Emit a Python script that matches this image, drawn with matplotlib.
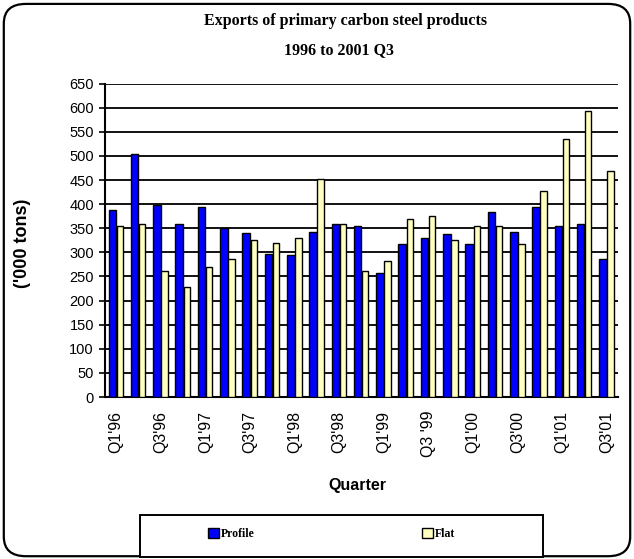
"""Exports of primary carbon steel products, 1996 to 2001 Q3."""

import matplotlib

matplotlib.use("Agg")
import matplotlib.pyplot as plt
import numpy as np
from matplotlib.patches import FancyBboxPatch, Patch, Rectangle

quarters = [
    "Q1'96", "Q2'96", "Q3'96", "Q4'96",
    "Q1'97", "Q2'97", "Q3'97", "Q4'97",
    "Q1'98", "Q2'98", "Q3'98", "Q4'98",
    "Q1'99", "Q2'99", "Q3 '99", "Q4'99",
    "Q1'00", "Q2'00", "Q3'00", "Q4'00",
    "Q1'01", "Q2'01", "Q3'01",
]
profile = [388, 505, 398, 358, 395, 350, 340, 297, 295, 342, 358, 355,
           258, 317, 330, 338, 317, 383, 342, 395, 355, 358, 287]
flat = [355, 358, 262, 228, 270, 287, 325, 320, 330, 453, 358, 262,
        283, 370, 375, 325, 355, 355, 317, 428, 535, 593, 468]
y_ticks = list(range(0, 651, 50))

SANS = "Liberation Sans"
SERIF = "Liberation Serif"

fig = plt.figure(figsize=(6.34, 5.59), dpi=100)
fig.patches.append(
    FancyBboxPatch((0.006, 0.005), 0.988, 0.988, boxstyle="round,pad=0,rounding_size=0.035",
                   transform=fig.transFigure, fc="white", ec="black", lw=1.6, zorder=-1)
)

ax = fig.add_axes([0.1656, 0.2898, 0.809, 0.5605])
x = np.arange(len(quarters))
w = 0.34
ax.bar(x - w / 2, profile, w, color="#0000FF", edgecolor="black", linewidth=1.0, zorder=3)
ax.bar(x + w / 2, flat, w * 0.85, color="#FFFFC0", edgecolor="black", linewidth=1.0, zorder=3)

ax.set_xlim(-0.5, len(quarters) - 0.5)
ax.set_ylim(0, 650)
ax.set_yticks(y_ticks)
ax.set_yticklabels([str(v) for v in y_ticks], fontsize=10.5, family=SANS)
ax.yaxis.grid(True, color="black", lw=1.3, zorder=0)
ax.set_xticks(x[::2])
ax.set_xticklabels(quarters[::2], rotation=90, fontsize=11.5, family=SANS)
ax.tick_params(axis="x", length=0, pad=10)
ax.tick_params(axis="y", length=4, width=1.2, pad=4)
for side in ("top", "right"):
    ax.spines[side].set_visible(False)
for side in ("left", "bottom"):
    ax.spines[side].set_linewidth(1.5)

fig.text(0.545, 0.962, "Exports of primary carbon steel products", ha="center", va="center",
         family=SERIF, weight="bold", fontsize=11.5)
fig.text(0.535, 0.911, "1996 to 2001 Q3", ha="center", va="center",
         family=SERIF, weight="bold", fontsize=11.5)
fig.text(0.563, 0.132, "Quarter", ha="center", va="center", family=SANS, weight="bold", fontsize=11.5)
fig.text(0.036, 0.565, "('000 tons)", ha="center", va="center", rotation=90,
         family=SANS, weight="bold", fontsize=13)

# legend box drawn separately so the entries can sit in the middle like the original
fig.patches.append(Rectangle((0.221, 0.004), 0.636, 0.075, transform=fig.transFigure,
                             fc="white", ec="black", lw=1.4))
handles = [Patch(fc="#0000FF", ec="black", label="Profile"),
           Patch(fc="#FFFFC0", ec="black", label="Flat")]
leg = fig.legend(handles=handles, loc="center", ncol=2, bbox_to_anchor=(0.523, 0.045),
                 frameon=False, handlelength=0.9, handleheight=0.9, handletextpad=0.15,
                 columnspacing=14.2, prop={"family": SERIF, "size": 8.5})
for t in leg.get_texts():
    t.set_weight("bold")

fig.savefig("out.png", dpi=100)
